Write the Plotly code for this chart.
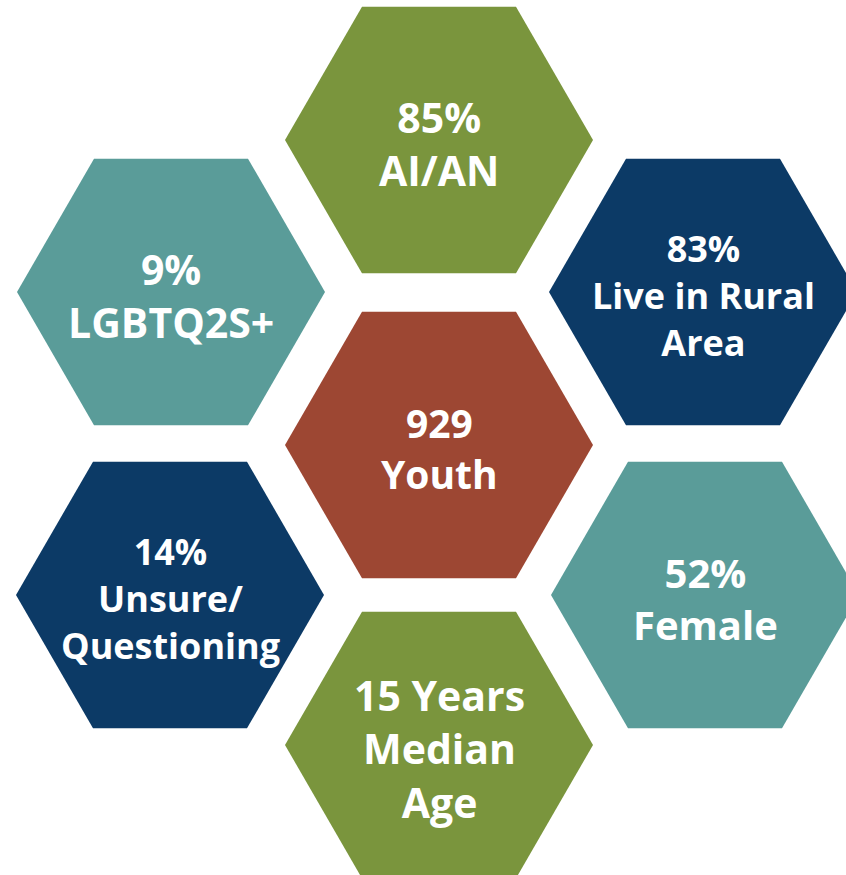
import numpy as np
import plotly.graph_objects as go

# infographic content
labels = [
    ["85%", "AI/AN"],
    ["9%", "LGBTQ2S+"],
    ["83%", "Live in Rural", "Area"],
    ["929", "Youth"],
    ["14%", "Unsure/", "Questioning"],
    ["52%", "Female"],
    ["15 Years", "Median", "Age"],
]
colors = ["#7A953D", "#5A9C99", "#0C3A66", "#9D4733", "#0C3A66", "#5A9C99", "#7A953D"]

# layout of the honeycomb (pixel space)
centers = [(439, 140), (171, 292), (703, 292), (439, 445), (170, 595), (705, 595), (439, 745)]
font_sizes = [41, 41, 36, 39, 36, 40, 41]
R = 154
W, H = 846, 875

fig = go.Figure()
ang = np.radians(np.arange(0, 361, 60))
for (cx, cy), col in zip(centers, colors):
    fig.add_trace(go.Scatter(
        x=cx + R * np.cos(ang), y=cy + R * np.sin(ang),
        mode="lines", fill="toself", fillcolor=col,
        line=dict(width=0), hoverinfo="skip", showlegend=False,
    ))

for (cx, cy), lines, fs in zip(centers, labels, font_sizes):
    fig.add_annotation(
        x=cx, y=cy + 3, text="<br>".join(f"<b>{t}</b>" for t in lines),
        showarrow=False, xanchor="center", yanchor="middle", align="center",
        font=dict(family="Open Sans", size=fs, color="white"),
    )

fig.update_xaxes(range=[0, W], visible=False, fixedrange=True)
fig.update_yaxes(range=[H, 0], visible=False, fixedrange=True)
fig.update_layout(
    width=W, height=H, margin=dict(l=0, r=0, t=0, b=0),
    paper_bgcolor="white", plot_bgcolor="white",
)
# drop the browser's default page margin so the figure sits at the top-left corner
fig.write_html(
    "out.html", config={"displayModeBar": False},
    post_script="document.body.style.margin='0';document.body.style.overflow='hidden';",
)
